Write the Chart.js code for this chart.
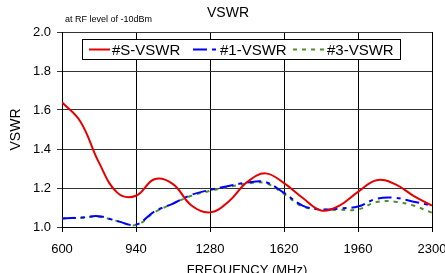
<!DOCTYPE html>
<html>
<head>
<meta charset="utf-8">
<script src="https://cdn.jsdelivr.net/npm/chart.js@4/dist/chart.umd.min.js"></script>
<style>
  html, body { margin: 0; padding: 0; background: #fff; }
  #wrap { width: 445px; height: 273px; }
</style>
</head>
<body>
<div id="wrap"><canvas id="chartVswr" width="445" height="273"></canvas></div>
<script>
// tan so (MHz)
var freqs = [600, 685, 770, 855, 940, 1025, 1110, 1195, 1280, 1365, 1450,
             1535, 1620, 1705, 1790, 1875, 1960, 2045, 2130, 2215, 2300];
var vswrS = [1.64, 1.54, 1.33, 1.175, 1.16, 1.245, 1.22, 1.11, 1.075, 1.13, 1.23,
             1.275, 1.225, 1.15, 1.085, 1.11, 1.18, 1.24, 1.22, 1.16, 1.11];
var vswr1 = [1.044, 1.048, 1.055, 1.03, 1.012, 1.08, 1.12, 1.165, 1.19, 1.21, 1.228,
             1.23, 1.175, 1.11, 1.09, 1.095, 1.105, 1.145, 1.15, 1.13, 1.11];
var vswr3 = [1.044, 1.048, 1.052, 1.03, 1.01, 1.075, 1.12, 1.16, 1.185, 1.205, 1.222,
             1.225, 1.17, 1.105, 1.09, 1.088, 1.09, 1.128, 1.13, 1.11, 1.073];
var xTicks = [600, 940, 1280, 1620, 1960, 2300];
var yTicks = [1.0, 1.2, 1.4, 1.6, 1.8, 2.0];
var seriesNames = ['#S-VSWR', '#1-VSWR', '#3-VSWR'];
var titleText = 'VSWR';
var noteText = 'at RF level of -10dBm';

var FONT = "'Liberation Sans', Arial, sans-serif";
var colors = ['#e60000', '#0000ff', '#4f8f2a'];
var dashes = [[], [14, 5, 4, 5], [4, 5]];

function toPoints(vals) {
    var pts = [];
    for (var i = 0; i < freqs.length; i++) pts.push({ x: freqs[i], y: vals[i] });
    return pts;
}

var allVals = [vswrS, vswr1, vswr3];
var orders = [0, 1, 2];
var datasets = [];
for (var i = 0; i < allVals.length; i++) {
    datasets.push({
        label: seriesNames[i],
        data: toPoints(allVals[i]),
        borderColor: colors[i],
        borderWidth: 2,
        borderDash: dashes[i],
        pointRadius: 0,
        fill: false,
        tension: 0.4,
        order: orders[i]
    });
}

// title + legend ve bang tay
var extras = {
    id: 'extras',
    afterDatasetsDraw: function (chart) {
        var ctx = chart.ctx, a = chart.chartArea;
        ctx.save();
        ctx.fillStyle = '#000';
        ctx.textBaseline = 'middle';
        ctx.font = '14px ' + FONT;
        ctx.textAlign = 'center';
        ctx.fillText(titleText, 228, 13);
        ctx.font = '9px ' + FONT;
        ctx.textAlign = 'left';
        ctx.fillText(noteText, 65, 20);

        var bx = a.left + 20, by = a.top + 7, bw = 318, bh = 20;
        ctx.fillStyle = '#fff';
        ctx.fillRect(bx, by, bw, bh);
        ctx.strokeStyle = '#000';
        ctx.lineWidth = 1;
        ctx.strokeRect(bx + 0.5, by + 0.5, bw, bh);
        var starts = [7, 111, 211], lens = [21, 25, 32];
        var cy = by + bh / 2 + 0.5;
        ctx.font = '15px ' + FONT;
        for (var k = 0; k < 3; k++) {
            ctx.strokeStyle = colors[k];
            ctx.lineWidth = 2;
            ctx.setLineDash(dashes[k]);
            ctx.beginPath();
            ctx.moveTo(bx + starts[k], cy);
            ctx.lineTo(bx + starts[k] + lens[k], cy);
            ctx.stroke();
            ctx.setLineDash([]);
            ctx.fillStyle = '#000';
            ctx.fillText(seriesNames[k], bx + starts[k] + lens[k] + 2, cy + 1);
        }
        ctx.restore();
    }
};

var chart = new Chart(document.getElementById('chartVswr'), {
    type: 'line',
    data: { datasets: datasets },
    plugins: [extras],
    options: {
        responsive: false,
        animation: false,
        layout: { padding: { left: 0, right: 13, top: 32, bottom: 0 } },
        plugins: { legend: { display: false }, tooltip: { enabled: false }, title: { display: false } },
        scales: {
            x: {
                type: 'linear',
                min: 600, max: 2300,
                afterBuildTicks: function (s) { s.ticks = xTicks.map(function (v) { return { value: v }; }); },
                afterFit: function (s) { s.height = 46; s.paddingLeft = 0; s.paddingRight = 0; },
                ticks: { color: '#000', font: { family: FONT, size: 13 }, padding: 10, maxRotation: 0, autoSkip: false,
                    callback: function (v) { return String(v); } },
                grid: { color: '#000', lineWidth: 1, tickLength: 5 },
                border: { color: '#000', width: 1 },
                title: { display: true, text: 'FREQUENCY (MHz)', color: '#000', font: { family: FONT, size: 13 }, padding: { top: 0, bottom: -5 } }
            },
            y: {
                min: 1, max: 2,
                afterBuildTicks: function (s) { s.ticks = yTicks.map(function (v) { return { value: v }; }); },
                afterFit: function (s) { s.width = 62; s.paddingTop = 0; s.paddingBottom = 0; },
                ticks: { color: '#000', font: { family: FONT, size: 13 }, padding: 6,
                    callback: function (v) { return Number(v).toFixed(1); } },
                grid: { color: '#333', lineWidth: 1, tickLength: 5 },
                border: { color: '#000', width: 1 },
                title: { display: true, text: 'VSWR', color: '#000', font: { family: FONT, size: 14 }, padding: { top: 8, bottom: 0 } }
            }
        }
    }
});
</script>
</body>
</html>
